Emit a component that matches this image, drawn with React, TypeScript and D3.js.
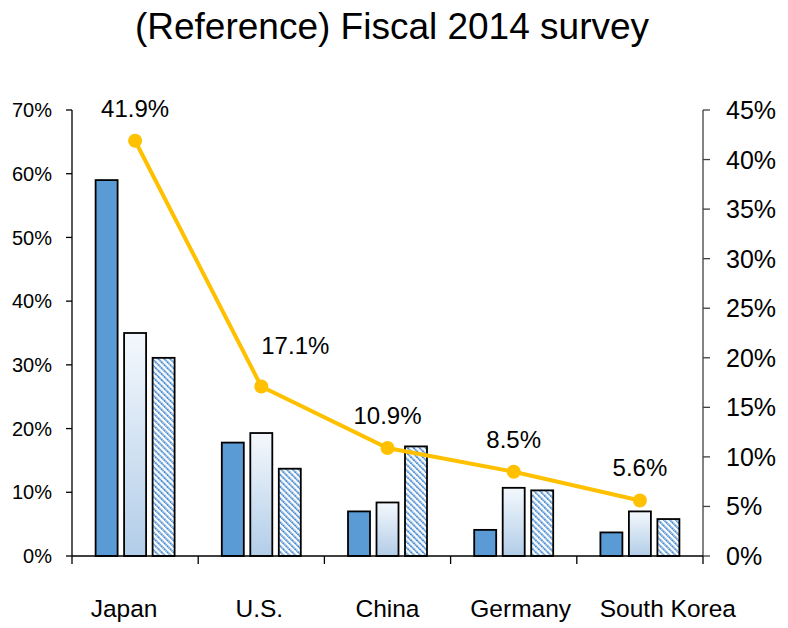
import React from "react";
import * as d3 from "d3";

const categories = ["Japan", "U.S.", "China", "Germany", "South Korea"];
const seriesA = [59.0, 17.8, 7.0, 4.1, 3.7];
const seriesB = [35.0, 19.3, 8.4, 10.7, 7.0];
const seriesC = [31.1, 13.7, 17.2, 10.3, 5.8];
const lineValues = [41.9, 17.1, 10.9, 8.5, 5.6];
const leftTicks = [0, 10, 20, 30, 40, 50, 60, 70];
const rightTicks = [0, 5, 10, 15, 20, 25, 30, 35, 40, 45];
const title = "(Reference) Fiscal 2014 survey";

const W = 788;
const H = 628;
const left = 72;
const right = 703;
const top = 110;
const bottom = 556;
const FONT = "Liberation Sans, Arial, Helvetica, sans-serif";
// label placement tweaks (layout only)
const labelDx = [0, 34, 0, 0, 0];
const labelDy = [0, -9, 0, 0, 0];
const catDx = [-11, -2, 0, 7, 28];

export default function App() {
  const x = d3.scaleBand<string>().domain(categories).range([left, right]).padding(0);
  const yL = d3.scaleLinear().domain([0, 70]).range([bottom, top]);
  const yR = d3.scaleLinear().domain([0, 45]).range([bottom, top]);
  const barW = 22;
  const gap = 6.5;
  const offsets = [-(barW + gap), 0, barW + gap];
  const series = [seriesA, seriesB, seriesC];
  const fills = ["#5B9BD5", "url(#gradB)", "url(#hatchC)"];
  const cx = (c: string) => (x(c) as number) + x.bandwidth() / 2;
  const line = d3
    .line<number>()
    .x((_, i) => cx(categories[i]))
    .y((d) => yR(d));
  const boundaries = d3.range(categories.length + 1).map((i) => left + i * x.bandwidth());

  return (
    <svg
      width={W}
      height={H}
      style={{ position: "absolute", left: 0, top: 0, background: "#fff" }}
      fontFamily={FONT}
    >
      <defs>
        <linearGradient id="gradB" x1="0" y1="0" x2="0" y2="1">
          <stop offset="0%" stopColor="#F4F8FD" />
          <stop offset="100%" stopColor="#B2CDE8" />
        </linearGradient>
        <pattern id="hatchC" width="4.2" height="4.2" patternUnits="userSpaceOnUse" patternTransform="rotate(-45)">
          <rect width="4.2" height="4.2" fill="#fff" />
          <line x1="1" y1="0" x2="1" y2="4.2" stroke="#4F8FD0" strokeWidth="2" strokeDasharray="1.6 0.5" />
        </pattern>
      </defs>
      <rect width={W} height={H} fill="#fff" />
      <text x={392} y={39} textAnchor="middle" fontSize={37} fill="#000">
        {title}
      </text>

      {/* bars */}
      {series.map((s, si) =>
        s.map((v, i) => (
          <rect
            key={`b${si}-${i}`}
            x={cx(categories[i]) + offsets[si] - barW / 2}
            y={yL(v)}
            width={barW}
            height={bottom - yL(v)}
            fill={fills[si]}
            stroke="#000"
            strokeWidth={1.8}
          />
        ))
      )}

      {/* left axis */}
      <line x1={left} x2={left} y1={top} y2={bottom} stroke="#000" strokeWidth={1.3} />
      {leftTicks.map((t) => (
        <g key={`l${t}`}>
          <line x1={left - 6} x2={left} y1={yL(t)} y2={yL(t)} stroke="#000" strokeWidth={1.3} />
          <text x={52} y={yL(t)} dy="0.36em" textAnchor="end" fontSize={20} fill="#000">
            {t}%
          </text>
        </g>
      ))}

      {/* right axis */}
      <line x1={right} x2={right} y1={top} y2={bottom} stroke="#404040" strokeWidth={1.3} />
      {rightTicks.map((t) => (
        <g key={`r${t}`}>
          <line x1={right} x2={right + 7} y1={yR(t)} y2={yR(t)} stroke="#404040" strokeWidth={1.3} />
          <text x={726} y={yR(t)} dy="0.36em" textAnchor="start" fontSize={25} fill="#000">
            {t}%
          </text>
        </g>
      ))}

      {/* x axis */}
      <line x1={left} x2={right} y1={bottom} y2={bottom} stroke="#000" strokeWidth={1.5} />
      {boundaries.map((b, i) => (
        <line key={`xt${i}`} x1={b} x2={b} y1={bottom} y2={bottom + 8} stroke="#000" strokeWidth={1.3} />
      ))}
      {categories.map((c, i) => (
        <text key={c} x={cx(c) + catDx[i]} y={617} textAnchor="middle" fontSize={24.5} fill="#000">
          {c}
        </text>
      ))}

      {/* line series */}
      <path d={line(lineValues) || ""} fill="none" stroke="#FFC000" strokeWidth={4} />
      {lineValues.map((v, i) => (
        <g key={`p${i}`}>
          <circle cx={cx(categories[i])} cy={yR(v)} r={7} fill="#FFC000" />
          <text
            x={cx(categories[i]) + labelDx[i]}
            y={yR(v) - 24 + labelDy[i]}
            textAnchor="middle"
            fontSize={24}
            fill="#000"
          >
            {v.toFixed(1)}%
          </text>
        </g>
      ))}
    </svg>
  );
}
